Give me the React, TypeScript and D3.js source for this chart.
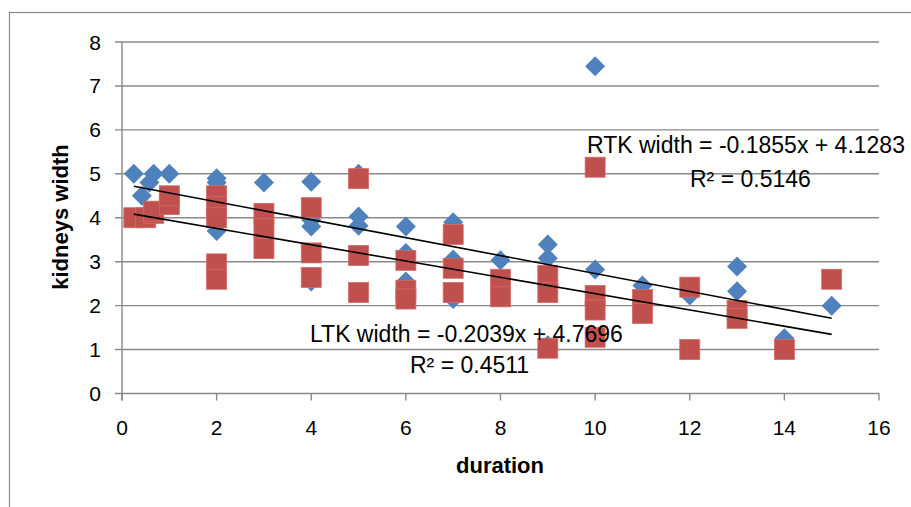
import React from "react";
import * as d3 from "d3";

const blueX = [0.25, 0.42, 0.58, 0.67, 1, 2, 2, 2, 3, 4, 4, 4, 4, 5, 5, 5, 6, 6, 6, 7, 7, 7, 8, 9, 9, 9, 10, 10, 11, 12, 13, 13, 14, 15];
const blueY = [5.0, 4.5, 4.8, 5.0, 5.0, 4.9, 4.8, 3.7, 4.8, 4.82, 3.95, 3.8, 2.55, 5.0, 4.03, 3.82, 3.8, 3.2, 2.55, 3.9, 3.05, 2.15, 3.03, 3.39, 3.08, 1.1, 7.45, 2.82, 2.46, 2.23, 2.89, 2.33, 1.26, 2.0];

const redX = [0.25, 0.5, 0.67, 0.67, 1, 1, 2, 2, 2, 2, 2, 3, 3, 3, 4, 4, 4, 5, 5, 5, 6, 6, 6, 7, 7, 7, 8, 8, 9, 9, 9, 10, 10, 10, 10, 11, 11, 12, 12, 13, 13, 14, 15];
const redY = [4.0, 4.0, 4.1, 4.15, 4.3, 4.5, 4.5, 4.25, 4.0, 2.95, 2.6, 4.1, 3.75, 3.3, 4.23, 3.2, 2.64, 4.89, 3.14, 2.3, 3.03, 2.35, 2.15, 3.62, 2.85, 2.3, 2.6, 2.2, 2.69, 2.3, 1.03, 5.15, 2.23, 1.9, 1.28, 2.14, 1.82, 2.42, 1.0, 1.89, 1.71, 1.0, 2.6];

const xTicks = [0, 2, 4, 6, 8, 10, 12, 14, 16];
const yTicks = [0, 1, 2, 3, 4, 5, 6, 7, 8];

const trendUpper = { slope: -0.2039, intercept: 4.7696 };
const trendLower = { slope: -0.1855, intercept: 4.1283 };
const trendRange = [0.25, 15];

const labelRTK = "RTK width = -0.1855x + 4.1283";
const labelRTK2 = "R² = 0.5146";
const labelLTK = "LTK width = -0.2039x + 4.7696";
const labelLTK2 = "R² = 0.4511";

const W = 911;
const H = 507;
const left = 122;
const right = 879;
const top = 42;
const bottom = 393.5;

const FONT = "'Liberation Sans', Arial, sans-serif";
const GRID = "#898989";

export default function App() {
  const x = d3.scaleLinear().domain([0, 16]).range([left, right]);
  const y = d3.scaleLinear().domain([0, 8]).range([bottom, top]);
  const line = d3
    .line<number>()
    .x((d) => x(d))
    .y((d) => d);

  const trendPath = (t: { slope: number; intercept: number }) =>
    d3
      .line<number>()
      .x((d) => x(d))
      .y((d) => y(t.slope * d + t.intercept))(trendRange) || "";

  const diamond = (cx: number, cy: number) => {
    const r = 10;
    return `M${cx},${cy - r}L${cx + r},${cy}L${cx},${cy + r}L${cx - r},${cy}Z`;
  };

  return (
    <svg
      width={W}
      height={H}
      style={{ position: "absolute", left: 0, top: 0, background: "#fff" }}
      fontFamily={FONT}
    >
      <rect x={9.5} y={12.5} width={W + 10} height={H + 10} fill="#fff" stroke={GRID} strokeWidth={1.2} />

      {/* horizontal gridlines + left ticks */}
      {yTicks.map((t) => (
        <line key={"g" + t} x1={left - 7} x2={right} y1={y(t)} y2={y(t)} stroke={GRID} strokeWidth={1.4} />
      ))}
      {/* y axis */}
      <line x1={left} x2={left} y1={top} y2={bottom + 7} stroke={GRID} strokeWidth={1.4} />
      {/* x ticks */}
      {xTicks.map((t) => (
        <line key={"xt" + t} x1={x(t)} x2={x(t)} y1={bottom} y2={bottom + 7} stroke={GRID} strokeWidth={1.4} />
      ))}

      {/* y tick labels */}
      {yTicks.map((t) => (
        <text key={"yl" + t} x={101} y={y(t) + 7.5} textAnchor="end" fontSize={21} fill="#000">
          {t}
        </text>
      ))}
      {/* x tick labels */}
      {xTicks.map((t) => (
        <text key={"xl" + t} x={x(t)} y={435} textAnchor="middle" fontSize={21} fill="#000">
          {t}
        </text>
      ))}

      {/* axis titles */}
      <text x={500} y={473} textAnchor="middle" fontSize={22} fontWeight="bold" fill="#000">
        duration
      </text>
      <text
        transform={`translate(68,217) rotate(-90)`}
        textAnchor="middle"
        fontSize={22}
        fontWeight="bold"
        fill="#000"
      >
        kidneys width
      </text>

      {/* blue diamonds */}
      {blueX.map((v, i) => (
        <path key={"b" + i} d={diamond(x(v), y(blueY[i]))} fill="#4F81BD" />
      ))}
      {/* red squares */}
      {redX.map((v, i) => (
        <rect
          key={"r" + i}
          x={x(v) - 10}
          y={y(redY[i]) - 10}
          width={20}
          height={20}
          fill="#C0504D"
          stroke="#D36B68"
          strokeWidth={0.8}
        />
      ))}

      {/* trendlines */}
      <path d={trendPath(trendUpper)} stroke="#000" strokeWidth={1.6} fill="none" />
      <path d={trendPath(trendLower)} stroke="#000" strokeWidth={1.6} fill="none" />

      {/* equation labels */}
      <text x={587} y={153} fontSize={23} fill="#000">
        {labelRTK}
      </text>
      <text x={690} y={187} fontSize={23} fill="#000">
        {labelRTK2}
      </text>
      <text x={310} y={342} fontSize={23} fill="#000">
        {labelLTK}
      </text>
      <text x={410} y={373} fontSize={23} fill="#000">
        {labelLTK2}
      </text>
    </svg>
  );
}
